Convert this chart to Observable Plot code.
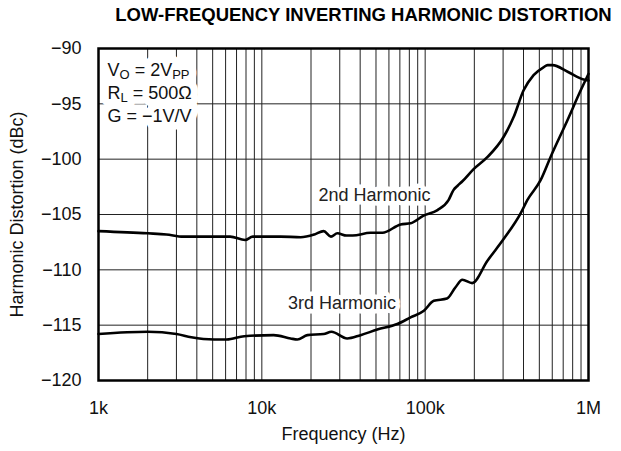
<!DOCTYPE html>
<html>
<head>
<meta charset="utf-8">
<script src="https://cdn.jsdelivr.net/npm/d3@7"></script>
<script src="https://cdn.jsdelivr.net/npm/@observablehq/plot@0.6"></script>
<style>
  html, body { margin: 0; padding: 0; background: white; }
  #chart { width: 621px; height: 451px; }
</style>
</head>
<body>
<div id="chart"></div>
<script>
// ---- Data ----
const titleText = "LOW-FREQUENCY INVERTING HARMONIC DISTORTION";
const xLabel = "Frequency (Hz)";
const yLabel = "Harmonic Distortion (dBc)";

const xTickValues = [1e3, 1e4, 1e5, 1e6];
const xTickLabels = ["1k", "10k", "100k", "1M"];
const yTickValues = [-90, -95, -100, -105, -110, -115, -120];

const gridX = [2000, 3000, 4000, 5000, 6000, 7000, 8000, 9000, 10000,
               20000, 30000, 40000, 50000, 60000, 70000, 80000, 90000, 100000,
               200000, 300000, 400000, 500000, 600000, 700000, 800000, 900000];
const gridY = [-95, -100, -105, -110, -115];

// 2nd harmonic
const freq2 = [1000, 2000, 2600, 3300, 6400, 7900, 8800, 13000, 17300, 21000, 23900, 26500, 29000,
               33000, 36000, 46300, 54800, 70700, 81400, 97800, 119000, 139000, 149000, 158000,
               169000, 198000, 241000, 302000, 348000, 400000, 461000, 530000, 562000, 603000,
               745000, 933000, 1000000];
const h2 = [-106.5, -106.7, -106.8, -107.0, -107.0, -107.3, -107.0, -107.0, -107.05, -106.8, -106.5, -107.0, -106.7,
            -106.9, -106.9, -106.65, -106.65, -105.9, -105.8, -105.1, -104.6, -103.7, -102.8, -102.4,
            -102.0, -100.9, -99.8, -98.0, -96.2, -93.8, -92.4, -91.7, -91.5, -91.5,
            -92.1, -92.8, -92.9];

// 3rd harmonic
const freq3 = [1000, 2000, 3000, 3700, 5100, 6100, 7800, 11800, 15000, 16500, 19000, 23900, 26700,
               33300, 40200, 50900, 67500, 81400, 98200, 113000, 136000, 153000, 169000, 194000,
               240000, 303000, 384000, 422000, 509000, 586000, 742000, 895000, 1000000];
const h3 = [-115.8, -115.6, -115.8, -116.1, -116.3, -116.3, -116.0, -115.9, -116.2, -116.3, -115.9, -115.8, -115.6,
            -116.2, -115.9, -115.4, -114.9, -114.3, -113.7, -112.8, -112.6, -111.6, -110.9, -111.2,
            -109.2, -107.2, -104.9, -103.7, -101.9, -99.8, -96.5, -93.8, -92.3];

// curve labels
const curveLabels = ["2nd Harmonic", "3rd Harmonic"];
const curveLabelFreq = [49000, 31000];
const curveLabelDb = [-103.3, -113.0];

// condition box lines (odd-indexed segments are subscripts)
const condLines = [["V", "O", " = 2V", "PP"], ["R", "L", " = 500Ω"], ["G = −1V/V"]];

// ---- Build ----
const series2 = freq2.map((f, i) => ({f, v: h2[i]}));
const series3 = freq3.map((f, i) => ({f, v: h3[i]}));
const labelRows = curveLabels.map((t, i) => ({t, f: curveLabelFreq[i], v: curveLabelDb[i]}));
const fmtY = d3.format("d");

const FONT = 18;
const condOpts = (i) => ({frameAnchor: "top-left", dx: 9, dy: 21.6 + 23 * i, textAnchor: "start",
  lineAnchor: "middle", fontSize: FONT});

const marks = [
  Plot.ruleX(gridX, {stroke: "#222", strokeWidth: 1}),
  Plot.ruleY(gridY, {stroke: "#222", strokeWidth: 1}),
  Plot.text(labelRows, {x: "f", y: "v", text: "t", fontSize: FONT, fill: "#222",
    stroke: "white", strokeWidth: 9, paintOrder: "stroke"}),
  // white halo under the condition text (masks the grid like a box)
  ...condLines.map((segs, i) => Plot.text([segs.join("")], {...condOpts(i),
    fill: "white", stroke: "white", strokeWidth: 15, strokeLinejoin: "round"})),
  ...condLines.map((segs, i) => Plot.text([segs.join("")], {...condOpts(i), fill: "#111"})),
  Plot.line(series2, {x: "f", y: "v", stroke: "black", strokeWidth: 2.6, curve: "monotone-x"}),
  Plot.line(series3, {x: "f", y: "v", stroke: "black", strokeWidth: 2.6, curve: "monotone-x"}),
  Plot.axisX(xTickValues, {tickSize: 0, tickPadding: 21, fontSize: FONT, label: null,
    tickFormat: d => xTickLabels[xTickValues.indexOf(d)]}),
  Plot.axisY(yTickValues, {tickSize: 0, tickPadding: 17, fontSize: FONT, label: null,
    tickFormat: d => fmtY(d)}),
  Plot.text([yLabel], {frameAnchor: "left", textAnchor: "middle", dx: -81, rotate: -90, fontSize: FONT, fill: "#111"}),
  Plot.text([xLabel], {frameAnchor: "bottom", dy: 59, fontSize: FONT, fill: "#111"}),
  Plot.text([titleText], {frameAnchor: "top", dx: 20, dy: -41, fontSize: 18.5, fontWeight: "bold", fill: "#000"}),
  Plot.frame({stroke: "black", strokeWidth: 2.5})
];

const svg = Plot.plot({
  width: 621,
  height: 451,
  marginTop: 48,
  marginBottom: 71,
  marginLeft: 98,
  marginRight: 33,
  style: {fontFamily: "'Liberation Sans', Arial, Helvetica, sans-serif", background: "white", color: "#111"},
  x: {type: "log", domain: [1e3, 1e6]},
  y: {domain: [-120, -90]},
  marks
});

// subscripts (applied to both halo and foreground copies)
const allTexts = Array.from(svg.querySelectorAll("text"));
condLines.forEach((segs) => {
  const full = segs.join("");
  allTexts.filter(el => el.textContent === full).forEach(t => {
    t.textContent = "";
    segs.forEach((s, j) => {
      const ts = document.createElementNS("http://www.w3.org/2000/svg", "tspan");
      ts.textContent = s;
      if (j % 2 === 1) { ts.setAttribute("font-size", 13); ts.setAttribute("dy", 3.5); }
      else if (j > 0) ts.setAttribute("dy", -3.5);
      t.appendChild(ts);
    });
  });
});

document.getElementById("chart").appendChild(svg);
</script>
</body>
</html>
